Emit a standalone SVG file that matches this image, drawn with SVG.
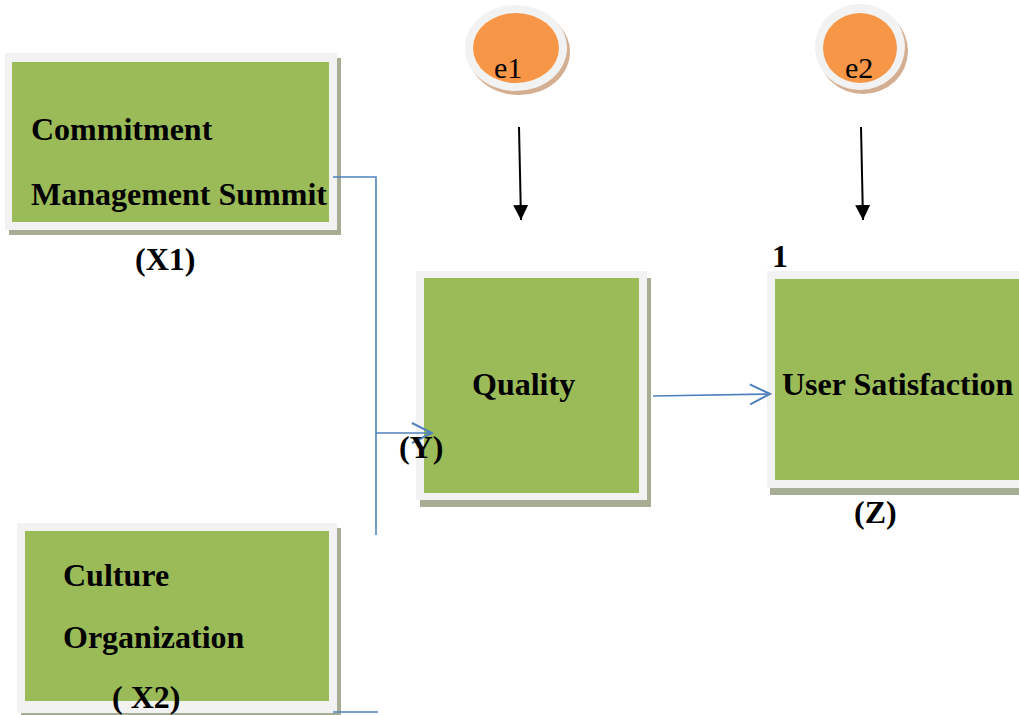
<svg xmlns="http://www.w3.org/2000/svg" width="1019" height="715" viewBox="0 0 1019 715">
<style>
.shadow{fill:#A6AD94}
.frame{fill:#F2F2F2}
.green{fill:#9BBB59}
.lbl{font-family:"Liberation Serif","Times New Roman",serif;font-weight:bold;font-size:32px;fill:#000}
.elbl{font-family:"Liberation Serif","Times New Roman",serif;font-size:30px;fill:#000}
.blue{stroke:#4F81BD;stroke-width:1.6;fill:none}
.black{stroke:#000;stroke-width:2;fill:none}
.eshadow{fill:#D4AE90}
.eframe{fill:#F2F2F2}
.orange{fill:#F79646}
</style>
<defs>
<marker id="chev" markerUnits="userSpaceOnUse" markerWidth="24" markerHeight="24" refX="20" refY="10" orient="auto" viewBox="-2 -2 24 24">
<path d="M0,0 L20,10 L0,20" fill="none" stroke="#4F81BD" stroke-width="2"/>
</marker>
<marker id="tri" markerUnits="userSpaceOnUse" markerWidth="16" markerHeight="16" refX="15" refY="7.5" orient="auto" viewBox="0 0 16 16">
<path d="M0,0 L15,7.5 L0,15 z" fill="#000"/>
</marker>
</defs>
<rect width="1019" height="715" fill="#fff"/>

<g id="e1">
<ellipse class="eshadow" cx="519" cy="52" rx="51" ry="43"/>
<ellipse class="eframe" cx="516" cy="48" rx="51" ry="43"/>
<ellipse class="orange" cx="516" cy="48" rx="43" ry="35"/>
<text class="elbl" x="494" y="78">e1</text>
</g>

<g id="e2">
<ellipse class="eshadow" cx="863" cy="51" rx="45" ry="43"/>
<ellipse class="eframe" cx="860" cy="47" rx="45" ry="43"/>
<ellipse class="orange" cx="860" cy="48" rx="37" ry="35"/>
<text class="elbl" x="845" y="78">e2</text>
</g>

<g id="x1">
<rect class="shadow" x="9" y="58" width="332" height="177"/>
<rect class="frame" x="5" y="53" width="332" height="177"/>
<rect class="green" x="12" y="62" width="317" height="160"/>
<text class="lbl" x="31" y="140">Commitment</text>
<text class="lbl" x="31" y="205">Management Summit</text>
<text class="lbl" x="135" y="270">(X1)</text>
</g>

<g id="quality">
<rect class="shadow" x="420" y="278" width="231" height="229"/>
<rect class="frame" x="416" y="271" width="231" height="229"/>
<rect class="green" x="424" y="278" width="215" height="215"/>
<text class="lbl" x="472" y="395">Quality</text>
</g>

<g id="satisfaction">
<rect class="shadow" x="770" y="278" width="260" height="217"/>
<rect class="frame" x="767" y="271" width="260" height="217"/>
<rect class="green" x="775" y="279" width="250" height="201"/>
<text class="lbl" x="772" y="267">1</text>
<text class="lbl" x="782" y="395">User Satisfaction</text>
<text class="lbl" x="854" y="523">(Z)</text>
</g>

<g id="x2">
<rect class="shadow" x="21" y="528" width="320" height="192"/>
<rect class="frame" x="17" y="523" width="320" height="190"/>
<rect class="green" x="25" y="531" width="304" height="170"/>
<text class="lbl" x="63" y="586">Culture</text>
<text class="lbl" x="63" y="648">Organization</text>
<text class="lbl" x="112" y="708">( X2)</text>
</g>

<g id="connectors">
<path class="blue" d="M333,177 H376 V535"/>
<line class="blue" x1="376" y1="433" x2="432" y2="433" marker-end="url(#chev)"/>
<line class="blue" x1="653" y1="396" x2="770" y2="394" marker-end="url(#chev)"/>
<line class="blue" x1="333" y1="712" x2="378" y2="712"/>
<line class="black" x1="519" y1="127" x2="521" y2="220" marker-end="url(#tri)"/>
<line class="black" x1="861" y1="127" x2="863" y2="220" marker-end="url(#tri)"/>
</g>

<g id="y-label">
<text class="lbl" x="399" y="458">(Y)</text>
</g>
</svg>
